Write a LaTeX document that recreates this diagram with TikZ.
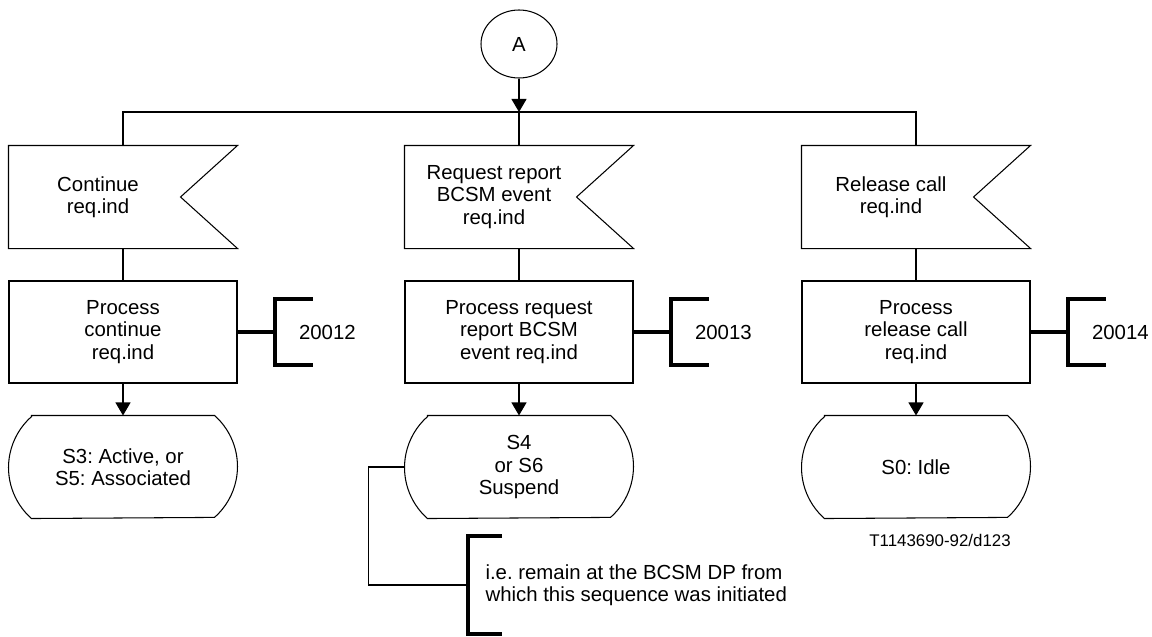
\documentclass[tikz,border=0pt]{standalone}
\usepackage{fontspec}
\setmainfont{Liberation Sans}
\usetikzlibrary{positioning,calc,arrows.meta,shapes.geometric}
\frenchspacing

\begin{document}
\begin{tikzpicture}[line width=0.6pt,
  every node/.style={font=\fontsize{11.6}{12.6}\selectfont,align=center},
  sig/.style={minimum width=4.56cm,minimum height=2.04cm,inner sep=0pt},
  proc/.style={draw,minimum width=4.56cm,minimum height=2.04cm,inner sep=0pt},
  stbox/.style={minimum width=4.56cm,minimum height=2.04cm,inner sep=0pt},
  arr/.style={-{Triangle[width=0.3cm,length=0.26cm]}},
  brk/.style={line width=2.3pt}]
\useasboundingbox (0,0) rectangle (23.04,12.72);
% connector A and branch
\node[draw,ellipse,minimum width=1.52cm,minimum height=1.36cm,inner sep=0pt] (A) at (10.38,11.84) {A};
\coordinate (j) at (10.38,10.48);
% inputs
\node[sig,label={[xshift=-0.5cm]center:{Continue\\req.ind}}] (in1) at (2.46,8.78) {};
\node[sig,label={[xshift=-0.5cm]center:{Request report\\BCSM event\\req.ind}}] (in2) at (10.38,8.78) {};
\node[sig,label={[xshift=-0.5cm]center:{Release call\\req.ind}}] (in3) at (18.32,8.78) {};
\foreach \n in {in1,in2,in3}
  \draw (\n.north west) -- (\n.north east) -- ([xshift=-1.14cm]\n.east) -- (\n.south east) -- (\n.south west) -- cycle;
% tasks
\node[proc] (p1) at (2.46,6.08) {Process\\continue\\req.ind};
\node[proc] (p2) at (10.38,6.08) {Process request\\report BCSM\\event req.ind};
\node[proc] (p3) at (18.32,6.08) {Process\\release call\\req.ind};
% states
\node[stbox] (st1) at (2.46,3.38) {S3: Active, or\\S5: Associated};
\node[stbox] (st2) at (10.38,3.38) {S4\\or S6\\Suspend};
\node[stbox] (st3) at (18.32,3.38) {S0: Idle};
\foreach \n in {st1,st2,st3}
  \draw ([xshift=0.46cm]\n.north west) -- ([xshift=-0.46cm]\n.north east)
    arc[start angle=48.5,end angle=-48.5,radius=1.361cm]
    -- ([xshift=0.46cm]\n.south west)
    arc[start angle=228.5,end angle=131.5,radius=1.361cm] -- cycle;
% flow
\draw[arr] (A) -- (j);
\draw (in1.north) |- (j) -| (in3.north);
\draw (j) -- (in2.north);
\foreach \i in {1,2,3} {
  \draw (in\i) -- (p\i);
  \draw[arr] (p\i) -- (st\i);
}
% references
\foreach \p/\r/\t in {p1/r1/20012,p2/r2/20013,p3/r3/20014} {
  \node[inner sep=0pt,anchor=west] (\r) at ($(\p.east)+(1.22,0)$) {\t};
  \draw[brk] (\p.east) -- ++(0.74,0);
  \draw[brk] ($(\p.east)+(1.5,0.66)$) -- ++(-0.76,0) -- ++(0,-1.32) -- ++(0.76,0);
}
% comment
\node[inner sep=0pt,anchor=west,align=left] (cmt) at (9.70,1.02) {i.e. remain at the BCSM DP from\\which this sequence was initiated};
\coordinate (cb) at ($(cmt.west)+(-0.34,0)$);
\draw[brk] ($(cmt.west)+(0.34,0.98)$) -- ++(-0.68,0) -- ++(0,-1.96) -- ++(0.68,0);
\draw (st2.west) -- ++(-0.72,0) |- (cb);
\node[font=\fontsize{9.6}{11}\selectfont] (tag) at (18.80,1.92) {T1143690-92/d123};
\end{tikzpicture}
\end{document}
